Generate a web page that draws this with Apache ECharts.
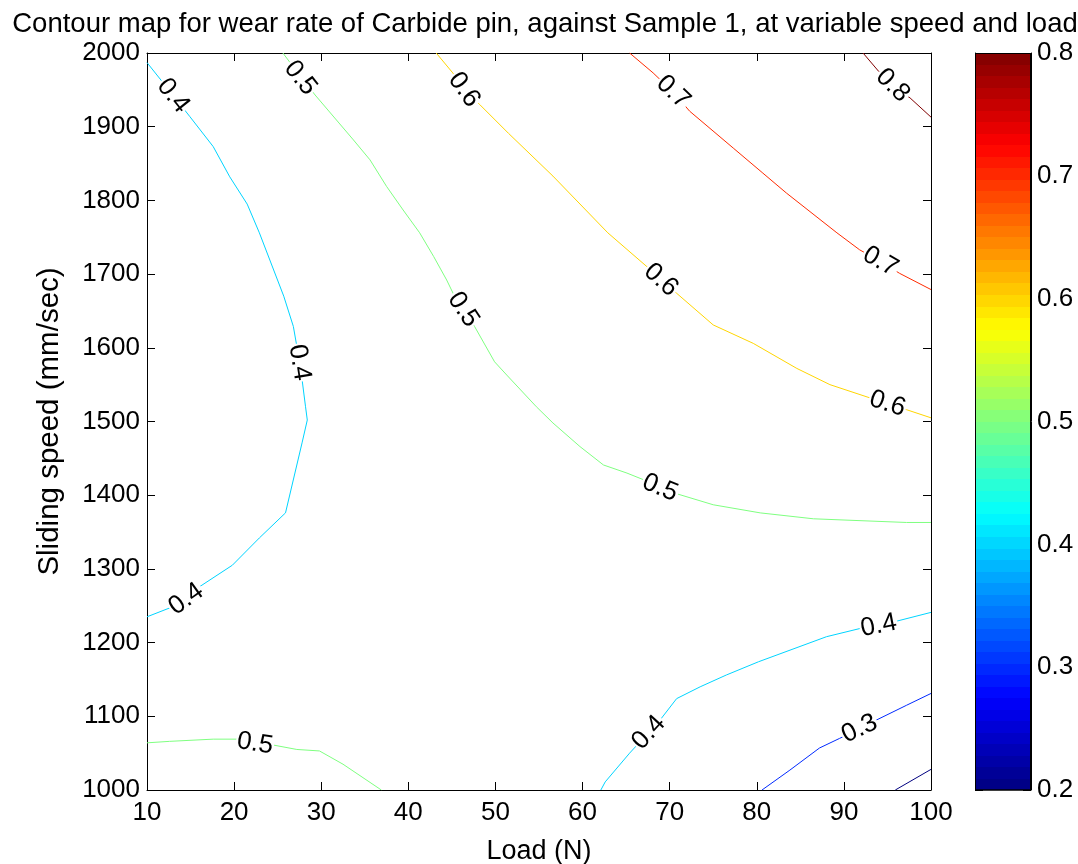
<!DOCTYPE html>
<html>
<head>
<meta charset="utf-8">
<script src="https://cdn.jsdelivr.net/npm/echarts@6/dist/echarts.min.js"></script>
<style>html,body{margin:0;padding:0;background:#fff}#c{width:1078px;height:864px}</style>
</head>
<body>
<div id="c"></div>
<script>
// ---- data ----
const titleText = 'Contour map for wear rate of Carbide pin, against Sample 1, at variable speed and load';
const xName = 'Load (N)';
const yName = 'Sliding speed (mm/sec)';
const xRange = [10, 100, 10];
const yRange = [1000, 2000, 100];
const cbRange = [0.2, 0.8, 0.1];

const line02 = [[95.9,1000],[100,1028]];
const line03 = [[80.6,1000],[83.8,1027],[87.2,1057],[89.5,1070],[91.8,1083],[93.4,1093],[97.2,1115],[100,1131]];
const line04a = [[10,1987],[12.5,1950],[14.9,1914],[17.6,1873],[19.5,1832],[21.5,1795],[22.9,1756],[25.7,1670],[26.8,1629],[27.2,1602],[27.8,1557],[28.2,1520],[28.4,1502],[27.8,1471],[25.9,1376],[22.9,1342],[19.8,1305],[15.8,1274],[12.6,1247],[10,1235]];
const line04b = [[62.1,1000],[62.6,1011],[65.4,1050],[68.9,1095],[70.8,1124],[73.5,1140],[76.5,1156],[80.2,1174],[88.0,1208],[91.8,1219],[95.7,1228],[100,1241]];
const line05a = [[25.6,2000],[27.5,1970],[29.3,1943],[33.7,1882],[35.6,1855],[37.5,1819],[39.4,1787],[41.3,1756],[42.9,1724],[44.4,1692],[45.3,1670],[47.6,1629],[49.9,1581],[51.3,1563],[54.7,1520],[56.6,1498],[59.7,1466],[62.4,1441],[65.1,1430],[67.0,1421],[70.8,1402],[75.0,1387],[80.4,1376],[86.5,1368],[90.7,1366],[97.2,1363],[100,1363]];
const line05b = [[10,1064],[12.6,1066],[17.6,1069],[20.3,1069],[24.5,1061],[27.2,1055],[29.8,1053],[32.5,1035],[36.9,1000]];
const line06 = [[43.2,2000],[45.1,1973],[46.5,1950],[48.2,1930],[51.5,1891],[56.6,1833],[62.9,1756],[67.3,1711],[70.8,1674],[75.0,1631],[79.6,1606],[84.6,1572],[88.4,1550],[93.0,1532],[97.2,1516],[100,1505]];
const line07 = [[65.4,2000],[68.1,1973],[70.4,1947],[72.3,1921],[77.3,1871],[80.7,1837],[83.4,1810],[89.2,1756],[91.8,1733],[94.2,1717],[96.4,1701],[100,1679]];
const line08 = [[92.2,2000],[94.0,1975],[95.7,1955],[97.6,1939],[100,1913]];

const labels03 = [[91.8,1083]];
const labels04a = [[13.0,1942],[27.5,1580],[14.5,1259]];
const labels04b = [[67.6,1078],[94.0,1223]];
const labels05a = [[27.6,1966],[46.3,1652],[68.9,1410]];
const labels05b = [[22.4,1063]];
const labels06 = [[46.4,1950],[69.0,1692],[95.0,1524]];
const labels07 = [[70.4,1947],[94.2,1717]];
const labels08 = [[95.6,1956]];

const contours = [
  {level:0.2, pts:line02, labels:[]},
  {level:0.3, pts:line03, labels:labels03},
  {level:0.4, pts:line04a, labels:labels04a},
  {level:0.4, pts:line04b, labels:labels04b},
  {level:0.5, pts:line05a, labels:labels05a},
  {level:0.5, pts:line05b, labels:labels05b},
  {level:0.6, pts:line06, labels:labels06},
  {level:0.7, pts:line07, labels:labels07},
  {level:0.8, pts:line08, labels:labels08}
];

// ---- style helpers ----
const FONT = 'Liberation Sans';
const TXT = '#000';
function clamp(v){return Math.max(0, Math.min(1, v));}
function jet(t){
  const r = clamp(Math.min(4*t-1.5, -4*t+4.5));
  const g = clamp(Math.min(4*t-0.5, -4*t+3.5));
  const b = clamp(Math.min(4*t+0.5, -4*t+2.5));
  return 'rgb(' + Math.round(r*255) + ',' + Math.round(g*255) + ',' + Math.round(b*255) + ')';
}
function levelColor(v){ return jet((v - cbRange[0]) / (cbRange[1] - cbRange[0])); }

const cbStops = [];
for (let i = 0; i < 64; i++) {
  const c = jet((i + 0.5) / 64);
  cbStops.push({offset: i/64, color: c});
  cbStops.push({offset: (i+1)/64, color: c});
}

const chart = echarts.init(document.getElementById('c'), null, {renderer:'canvas'});

const tickInside = {show:true, inside:true, length:8, lineStyle:{color:'#000', width:1}};
const axLine = {show:true, lineStyle:{color:'#000', width:1}};

function lineSeries(){
  return contours.map(c => ({
    type:'line', xAxisIndex:0, yAxisIndex:0, data:c.pts, showSymbol:false, symbol:'none',
    lineStyle:{color:levelColor(c.level), width:1}, z:3, silent:true, animation:false
  }));
}

function labelSeries(rotations){
  const data = [];
  contours.forEach((c, ci) => {
    c.labels.forEach((p, li) => {
      data.push({value:p, name:c.level.toFixed(1),
        label:{rotate: rotations ? rotations[ci][li] : 0}});
    });
  });
  return {
    type:'scatter', xAxisIndex:0, yAxisIndex:0, data:data, symbolSize:0,
    itemStyle:{color:'#000'}, z:10, silent:true, animation:false,
    label:{show:true, position:'inside', formatter:'{b}', color:'#000', fontFamily:FONT,
      fontSize:26, backgroundColor:'#fff', padding:[0,1], align:'center', verticalAlign:'middle',
      textBorderWidth:0, opacity:1}
  };
}

const option = {
  backgroundColor:'#fff',
  animation:false,
  title:{text:titleText, left:540, textAlign:'center', top:5,
    textStyle:{fontFamily:FONT, fontSize:27.5, fontWeight:'normal', color:TXT}},
  grid:[
    {left:147, top:53, width:784, height:737, containLabel:false, outerBoundsMode:'none'},
    {left:975, top:53, width:56, height:737, containLabel:false, outerBoundsMode:'none'}
  ],
  xAxis:[
    {type:'value', gridIndex:0, min:xRange[0], max:xRange[1], interval:xRange[2], position:'bottom',
      axisLine:axLine, axisTick:tickInside, splitLine:{show:false},
      axisLabel:{color:TXT, fontFamily:FONT, fontSize:26, margin:10, formatter:v => String(v)},
      name:xName, nameLocation:'middle', nameGap:48,
      nameTextStyle:{color:TXT, fontFamily:FONT, fontSize:27}},
    {type:'value', gridIndex:0, min:xRange[0], max:xRange[1], interval:xRange[2], position:'top',
      axisLine:axLine, axisTick:tickInside, splitLine:{show:false}, axisLabel:{show:false}},
    {type:'category', gridIndex:1, data:['cb'], show:false}
  ],
  yAxis:[
    {type:'value', gridIndex:0, min:yRange[0], max:yRange[1], interval:yRange[2], position:'left',
      axisLine:axLine, axisTick:tickInside, splitLine:{show:false},
      axisLabel:{color:TXT, fontFamily:FONT, fontSize:26, margin:7, formatter:v => String(v)},
      name:yName, nameLocation:'middle', nameGap:82,
      nameTextStyle:{color:TXT, fontFamily:FONT, fontSize:29.5}},
    {type:'value', gridIndex:0, min:yRange[0], max:yRange[1], interval:yRange[2], position:'right',
      axisLine:axLine, axisTick:tickInside, splitLine:{show:false}, axisLabel:{show:false}},
    {type:'value', gridIndex:1, min:cbRange[0], max:cbRange[1], interval:cbRange[2], position:'right',
      axisLine:axLine, axisTick:tickInside, splitLine:{show:false},
      axisLabel:{color:TXT, fontFamily:FONT, fontSize:26, margin:6, formatter:v => v.toFixed(1)}},
    {type:'value', gridIndex:1, min:cbRange[0], max:cbRange[1], interval:cbRange[2], position:'left',
      axisLine:axLine, axisTick:tickInside, splitLine:{show:false}, axisLabel:{show:false}}
  ],
  series: lineSeries().concat([
    labelSeries(null),
    {type:'bar', xAxisIndex:2, yAxisIndex:2, data:[cbRange[1]], barWidth:'100%', silent:true, z:1,
      itemStyle:{borderColor:'#000', borderWidth:1,
        color:{type:'linear', x:0, y:1, x2:0, y2:0, colorStops:cbStops}}}
  ])
};
chart.setOption(option);

// rotate each contour label along its line, using the chart's own scales
const rotations = contours.map(c => c.labels.map(p => {
  const lp = chart.convertToPixel({gridIndex:0}, p);
  let best = null, bestD = Infinity;
  for (let i = 0; i < c.pts.length - 1; i++) {
    const a = chart.convertToPixel({gridIndex:0}, c.pts[i]);
    const b = chart.convertToPixel({gridIndex:0}, c.pts[i+1]);
    const dx = b[0]-a[0], dy = b[1]-a[1];
    const len2 = dx*dx + dy*dy || 1;
    let t = ((lp[0]-a[0])*dx + (lp[1]-a[1])*dy) / len2;
    t = Math.max(0, Math.min(1, t));
    const px = a[0] + t*dx, py = a[1] + t*dy;
    const d = Math.hypot(lp[0]-px, lp[1]-py);
    if (d < bestD) { bestD = d; best = [dx, dy]; }
  }
  let ang = Math.atan2(-best[1], best[0]) * 180 / Math.PI;
  if (ang > 90) ang -= 180;
  if (ang <= -90) ang += 180;
  return ang;
}));
const newSeries = lineSeries().concat([labelSeries(rotations), option.series[option.series.length-1]]);
chart.setOption({series:newSeries});
</script>
</body>
</html>
